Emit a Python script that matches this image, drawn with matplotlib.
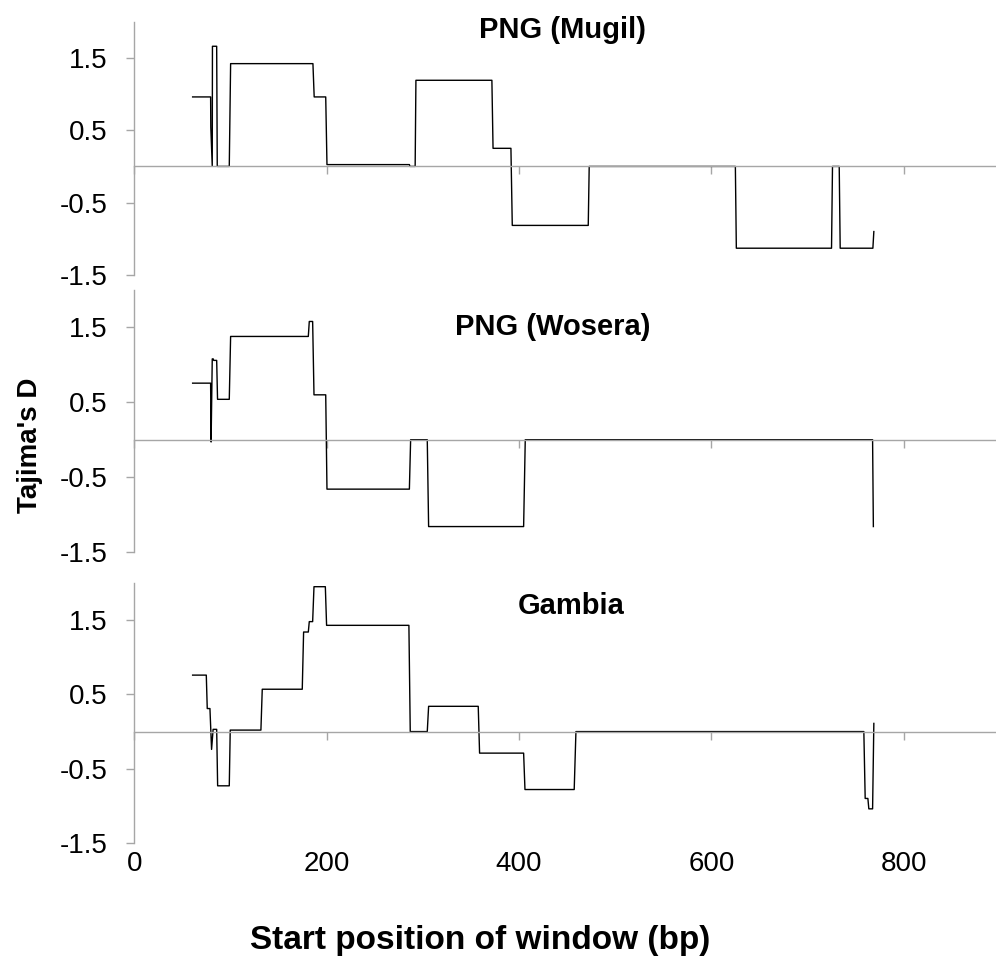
import matplotlib
matplotlib.use("Agg")
import matplotlib.pyplot as plt

plt.rcParams['font.family'] = ['Liberation Sans', 'DejaVu Sans']

# Tajima's D, sliding window (start position in bp) - vertices
mugil_x = [60.6, 79.3, 79.5, 81.0, 81.2, 85.6, 86.2, 98.7, 100.1, 185.7, 187.0, 199.0, 200.3,
           286.0, 286.6, 292.0, 292.8, 371.8, 373.0, 391.6, 393.0, 472.0, 473.0, 625.0, 626.0,
           725.0, 726.0, 733.0, 734.0, 768.0, 769.0]
mugil_d = [0.96, 0.96, 0.54, 0.0, 1.66, 1.66, 0.0, 0.0, 1.42, 1.42, 0.96, 0.96, 0.025,
           0.025, 0.0, 0.0, 1.19, 1.19, 0.25, 0.25, -0.815, -0.815, 0.0, 0.0, -1.13,
           -1.13, 0.0, 0.0, -1.13, -1.13, -0.9]

wosera_x = [60.6, 79.3, 79.8, 81.0, 82.0, 82.5, 85.6, 86.5, 98.7, 100.1, 180.9, 181.9, 185.4,
            186.8, 199.0, 200.3, 286.0, 287.3, 304.6, 306.0, 404.8, 406.5, 767.7, 768.5]
wosera_d = [0.756, 0.756, -0.03, 1.08, 1.08, 1.06, 1.06, 0.54, 0.54, 1.38, 1.38, 1.58, 1.58,
            0.6, 0.6, -0.66, -0.66, 0.0, 0.0, -1.16, -1.16, 0.0, 0.0, -1.16]

gambia_x = [60.6, 74.8, 75.8, 78.6, 80.3, 81.9, 85.6, 86.6, 98.7, 99.7, 131.6, 133.0, 174.6,
            176.0, 180.9, 181.9, 185.4, 186.8, 198.6, 199.9, 285.5, 286.9, 304.6, 306.0, 357.6,
            359.0, 404.8, 406.2, 457.4, 459.2, 758.6, 760.0, 762.8, 763.8, 767.7, 769.0]
gambia_d = [0.76, 0.76, 0.31, 0.31, -0.24, 0.03, 0.03, -0.73, -0.73, 0.02, 0.02, 0.57, 0.57,
            1.34, 1.34, 1.48, 1.48, 1.95, 1.95, 1.43, 1.43, 0.0, 0.0, 0.34, 0.34,
            -0.29, -0.29, -0.78, -0.78, 0.0, 0.0, -0.9, -0.9, -1.04, -1.04, 0.11]

titles = ['PNG (Mugil)', 'PNG (Wosera)', 'Gambia']
title_pos = [(445, 1.78), (435, 1.40), (454, 1.58)]
yticks = [-1.5, -0.5, 0.5, 1.5]
xticks = [0, 200, 400, 600, 800]

grey = '#a6a6a6'

fig = plt.figure(figsize=(9.96, 9.71), dpi=100)
# [left, bottom, width, height] in figure fractions
boxes = [[0.1349, 0.7168, 0.8641, 0.2609],
         [0.1349, 0.4315, 0.8641, 0.2698],
         [0.1349, 0.1318, 0.8641, 0.2678]]
series = [(mugil_x, mugil_d), (wosera_x, wosera_d), (gambia_x, gambia_d)]

axes = []
for i, box in enumerate(boxes):
    ax = fig.add_axes(box)
    xs, ds = series[i]
    ax.plot(xs, ds, color='black', lw=1.0)
    ax.set_xlim(0, 895)
    ax.set_ylim(-1.5, 2.0)
    ax.spines['top'].set_visible(False)
    ax.spines['right'].set_visible(False)
    ax.spines['bottom'].set_position(('data', 0))
    ax.spines['bottom'].set_color(grey)
    ax.spines['left'].set_color(grey)
    ax.spines['bottom'].set_linewidth(1.0)
    ax.spines['left'].set_linewidth(1.0)
    ax.set_yticks(yticks)
    ax.set_yticklabels([str(t) for t in yticks])
    ax.set_xticks(xticks)
    ax.tick_params(axis='y', direction='out', length=6, width=1, color=grey,
                   labelsize=20, pad=13)
    ax.tick_params(axis='x', direction='out', length=6, width=1, color=grey,
                   labelbottom=False)
    ax.patch.set_visible(False)
    tx, ty = title_pos[i]
    ax.text(tx, ty, titles[i], ha='center', va='baseline', fontsize=21,
            fontweight='bold')
    axes.append(ax)

# x tick labels only under the bottom panel
sec = axes[2].secondary_xaxis('bottom')
sec.set_xticks(xticks)
sec.set_xticklabels([str(t) for t in xticks])
sec.tick_params(length=0, labelsize=20, pad=6)
sec.spines['bottom'].set_visible(False)

fig.text(480 / 996, 1 - 940 / 971, 'Start position of window (bp)', ha='center',
         va='center', fontsize=24, fontweight='bold')
fig.text(30 / 996, 1 - 445 / 971, "Tajima's D", ha='center', va='center',
         rotation=90, fontsize=20, fontweight='bold')

fig.savefig('out.png', dpi=100)
